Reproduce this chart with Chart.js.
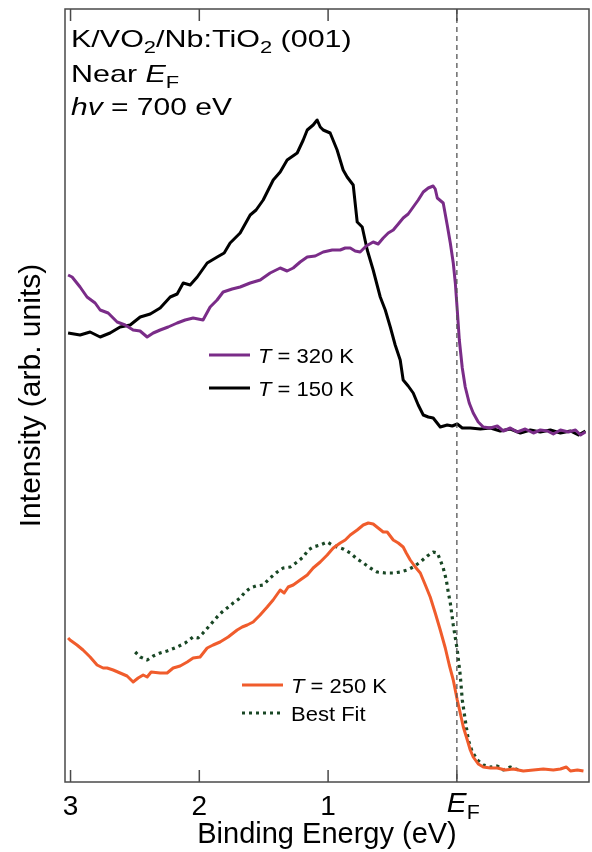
<!DOCTYPE html>
<html>
<head>
<meta charset="utf-8">
<script src="https://cdn.jsdelivr.net/npm/chart.js@4"></script>
<style>
  body { margin: 0; background: #fff; }
  #wrap { width: 592px; height: 852px; }
</style>
</head>
<body>
<div id="wrap"><canvas id="xps"></canvas></div>
<script>
// binding energy (eV) / intensity (arb. units)
const e150 = [3.019,2.926,2.848,2.770,2.693,2.615,2.537,2.459,2.381,2.304,2.226,2.172,2.125,2.071,2.016,1.939,1.861,1.807,1.761,1.683,1.605,1.559,1.504,1.426,1.372,1.318,1.240,1.193,1.162,1.116,1.085,1.061,1.038,0.984,0.930,0.883,0.852,0.805,0.774,0.735,0.696,0.650,0.595,0.556,0.517,0.479,0.440,0.417,0.378,0.339,0.300,0.261,0.222,0.184,0.129,0.075,0.036,-0.003,-0.042,-0.104,-0.182,-0.260,-0.337,-0.415,-0.493,-0.571,-0.648,-0.726,-0.804,-0.882,-0.944,-0.998];
const i150 = [44.9,44.7,45.0,44.5,44.9,45.5,45.7,46.5,46.8,47.4,48.5,48.8,49.9,49.7,50.5,51.9,52.5,52.9,53.9,54.9,56.7,57.2,58.2,60.2,61.0,62.2,62.9,64.2,65.2,65.7,66.2,65.5,65.2,64.9,63.2,61.2,60.5,59.7,56.0,55.5,53.2,51.2,48.5,47.2,45.5,43.7,42.2,40.2,39.6,38.9,37.7,36.7,36.5,36.4,35.5,35.7,35.6,35.8,35.4,35.4,35.3,35.4,35.1,35.3,34.9,35.2,35.0,35.2,34.9,35.1,34.7,35.1];

const e320 = [3.019,2.988,2.926,2.872,2.809,2.770,2.708,2.638,2.576,2.514,2.460,2.405,2.358,2.304,2.242,2.172,2.110,2.048,1.971,1.916,1.862,1.815,1.745,1.683,1.605,1.527,1.450,1.372,1.318,1.271,1.217,1.162,1.100,1.038,0.968,0.906,0.867,0.828,0.790,0.751,0.704,0.650,0.611,0.572,0.533,0.494,0.455,0.417,0.378,0.339,0.300,0.261,0.222,0.184,0.168,0.152,0.106,0.075,0.051,0.028,0.012,-0.003,-0.019,-0.042,-0.065,-0.096,-0.127,-0.166,-0.205,-0.260,-0.314,-0.361,-0.415,-0.469,-0.531,-0.594,-0.648,-0.703,-0.749,-0.804,-0.866,-0.921,-0.960,-0.998];
const i320 = [50.7,50.5,49.5,48.5,47.9,47.2,46.9,46.0,45.7,45.2,45.1,44.5,44.9,45.2,45.5,45.9,46.2,46.4,46.2,47.5,48.2,49.0,49.3,49.5,49.9,50.2,50.9,51.4,51.1,51.4,52.0,52.5,52.6,53.0,53.2,53.2,53.4,53.4,53.1,53.0,53.6,54.0,53.8,54.4,54.9,55.2,55.8,56.4,56.8,57.5,58.2,59.0,59.4,59.6,59.3,58.4,57.9,55.7,53.9,51.9,49.9,47.2,44.2,41.4,39.5,37.9,36.9,36.0,35.5,35.4,35.6,35.1,35.4,35.0,35.3,34.9,35.2,35.1,34.8,35.2,35.0,35.2,34.7,35.0];

const e250 = [3.019,3.004,2.950,2.903,2.848,2.794,2.747,2.716,2.669,2.615,2.561,2.514,2.475,2.436,2.405,2.374,2.304,2.250,2.203,2.149,2.094,2.048,1.994,1.939,1.893,1.839,1.776,1.706,1.667,1.628,1.582,1.528,1.473,1.427,1.372,1.341,1.310,1.271,1.217,1.162,1.116,1.061,1.007,0.960,0.906,0.867,0.828,0.774,0.727,0.688,0.650,0.611,0.572,0.541,0.494,0.455,0.417,0.393,0.362,0.323,0.284,0.245,0.207,0.168,0.129,0.090,0.059,0.028,-0.003,-0.026,-0.050,-0.081,-0.104,-0.127,-0.166,-0.205,-0.260,-0.314,-0.376,-0.438,-0.516,-0.594,-0.671,-0.749,-0.804,-0.850,-0.882,-0.936,-0.983];
const i250 = [14.4,14.2,13.7,13.2,12.5,11.7,11.4,11.4,11.2,10.9,10.6,10.0,10.4,10.7,10.5,11.0,10.9,10.9,11.4,11.6,12.0,12.4,12.5,13.4,13.7,14.0,14.5,15.2,15.5,15.7,16.0,16.7,17.5,18.2,19.2,18.9,19.5,19.7,20.2,20.7,21.4,22.0,22.7,23.4,23.9,24.2,24.7,25.2,25.7,25.9,25.8,25.4,25.0,25.0,24.2,23.9,23.5,22.9,22.2,21.5,20.9,19.7,18.5,16.9,15.2,13.4,11.7,10.2,8.2,6.9,5.5,4.2,3.2,2.5,1.8,1.5,1.4,1.4,1.2,1.3,1.1,1.2,1.3,1.2,1.3,1.5,1.1,1.2,1.1];

const eFit = [2.498,2.459,2.405,2.358,2.304,2.250,2.172,2.110,2.048,2.009,1.971,1.916,1.862,1.823,1.784,1.737,1.683,1.644,1.605,1.559,1.504,1.450,1.395,1.349,1.294,1.240,1.193,1.154,1.116,1.061,1.007,0.968,0.930,0.883,0.828,0.774,0.727,0.673,0.619,0.556,0.494,0.440,0.386,0.339,0.284,0.230,0.184,0.152,0.129,0.106,0.082,0.067,0.051,0.028,-0.003,-0.026,-0.042,-0.065,-0.089,-0.120,-0.159,-0.205,-0.260,-0.314,-0.361,-0.415,-0.477];
const iFit = [13.0,12.5,12.2,12.6,12.9,13.1,13.5,13.9,14.5,14.4,14.9,15.7,16.5,17.0,17.4,17.9,18.4,19.0,19.4,19.6,19.7,20.4,21.0,21.4,21.5,22.0,22.5,23.2,23.5,23.7,24.0,23.7,23.5,23.3,22.9,22.3,21.9,21.4,21.0,20.9,20.9,21.0,21.2,21.5,22.0,22.6,23.0,22.9,22.2,21.4,20.2,19.0,17.9,15.7,13.2,10.7,8.2,6.2,4.2,3.0,2.2,1.7,1.5,1.6,1.2,1.5,1.2];

const xTicks = [3, 2, 1, 0];
const xTickLabels = ['3', '2', '1', ''];

const PURPLE = 'rgb(122,44,136)';
const ORANGE = 'rgb(240,92,44)';
const GREEN = 'rgb(24,70,36)';
const FRAME = '#4a4a4a';
const FONT = '"Liberation Sans", Arial, Helvetica, sans-serif';

function pts(xs, ys) {
    return xs.map((x, i) => ({ x: x, y: ys[i] }));
}

// draws a run of text pieces [text, style], style '' | 'i' | 'sub'; sx stretches horizontally
function runText(ctx, x, y, size, parts, sx) {
    sx = sx || 1;
    ctx.save();
    ctx.translate(x, y);
    ctx.scale(sx, 1);
    let cx = 0;
    parts.forEach(p => {
        const s = p[1] || '';
        const sub = s === 'sub';
        const fs = sub ? size * 0.72 : size;
        ctx.font = (s === 'i' ? 'italic ' : '') + fs + 'px ' + FONT;
        ctx.fillText(p[0], cx, sub ? size * 0.26 : 0);
        cx += ctx.measureText(p[0]).width;
    });
    ctx.restore();
}

const decor = {
    id: 'decor',
    afterDatasetsDraw(chart) {
        const ctx = chart.ctx;
        const a = chart.chartArea;
        const xs = chart.scales.x;
        ctx.save();

        // E_F marker
        const x0 = xs.getPixelForValue(0);
        ctx.strokeStyle = '#555';
        ctx.lineWidth = 1.3;
        ctx.setLineDash([5, 4]);
        ctx.beginPath();
        ctx.moveTo(x0, a.top);
        ctx.lineTo(x0, a.bottom);
        ctx.stroke();
        ctx.setLineDash([]);

        // frame and inward ticks
        ctx.strokeStyle = FRAME;
        ctx.lineWidth = 1.5;
        ctx.strokeRect(a.left, a.top, a.right - a.left, a.bottom - a.top);
        xTicks.forEach(t => {
            const px = xs.getPixelForValue(t);
            ctx.beginPath();
            ctx.moveTo(px, a.bottom);
            ctx.lineTo(px, a.bottom - 12);
            ctx.moveTo(px, a.top);
            ctx.lineTo(px, a.top + 12);
            ctx.stroke();
        });

        ctx.fillStyle = '#000';
        ctx.textBaseline = 'alphabetic';
        ctx.textAlign = 'left';

        // E_F tick label
        runText(ctx, x0 - 10, 812, 27, [['E', 'i'], ['F', 'sub']], 1.1);

        // header
        runText(ctx, a.left + 6, 47, 24, [['K/VO'], ['2', 'sub'], ['/Nb:TiO'], ['2', 'sub'], [' (001)']], 1.27);
        runText(ctx, a.left + 6, 82, 24, [['Near '], ['E', 'i'], ['F', 'sub']], 1.27);
        runText(ctx, a.left + 6, 115, 24, [['hv', 'i'], [' = 700 eV']], 1.25);

        // legends
        const ds = chart.data.datasets;
        const legendRows = [
            [ds[0], 355, 'T', ' = 320 K'],
            [ds[1], 388, 'T', ' = 150 K'],
            [ds[2], 685, 'T', ' = 250 K'],
            [ds[3], 713, '', 'Best Fit']
        ];
        legendRows.forEach((r, k) => {
            const lx = k < 2 ? 209 : 242;
            ctx.strokeStyle = r[0].borderColor;
            ctx.lineWidth = 3;
            ctx.setLineDash(r[0].borderDash || []);
            ctx.beginPath();
            ctx.moveTo(lx, r[1]);
            ctx.lineTo(lx + 41, r[1]);
            ctx.stroke();
            ctx.setLineDash([]);
            const parts = r[2] ? [[r[2], 'i'], [r[3]]] : [[r[3]]];
            runText(ctx, lx + 49, r[1] + 8, 20, parts, 1.1);
        });

        ctx.restore();
    }
};

new Chart(document.getElementById('xps'), {
    type: 'line',
    data: {
        datasets: [
            { label: 'T = 320 K', data: pts(e320, i320), borderColor: PURPLE, borderWidth: 3 },
            { label: 'T = 150 K', data: pts(e150, i150), borderColor: '#000', borderWidth: 3 },
            { label: 'T = 250 K', data: pts(e250, i250), borderColor: ORANGE, borderWidth: 3 },
            { label: 'Best Fit', data: pts(eFit, iFit), borderColor: GREEN, borderWidth: 3.2, borderDash: [3, 4] }
        ]
    },
    options: {
        responsive: true,
        maintainAspectRatio: false,
        animation: false,
        elements: { point: { radius: 0 }, line: { tension: 0, borderJoinStyle: 'round' } },
        layout: { padding: { top: 9, right: 3, left: 0, bottom: 0 } },
        plugins: { legend: { display: false }, tooltip: { enabled: false } },
        scales: {
            x: {
                type: 'linear',
                reverse: true,
                min: -1.026,
                max: 3.043,
                afterBuildTicks: s => { s.ticks = xTicks.map(v => ({ value: v })); },
                afterFit: s => { s.height = 70; },
                grid: { display: false, drawTicks: false },
                border: { display: false },
                ticks: {
                    color: '#000',
                    padding: 8,
                    font: { family: FONT, size: 28 },
                    callback: v => xTickLabels[xTicks.indexOf(v)]
                },
                title: {
                    display: true,
                    text: 'Binding Energy (eV)',
                    color: '#000',
                    padding: { top: 0, bottom: 0 },
                    font: { family: FONT, size: 29 }
                }
            },
            y: {
                min: 0,
                max: 77.3,
                afterFit: s => { s.width = 65; },
                grid: { display: false, drawTicks: false },
                border: { display: false },
                ticks: { display: false },
                title: {
                    display: true,
                    text: 'Intensity (arb. units)',
                    color: '#000',
                    padding: { top: 14, bottom: 0 },
                    font: { family: FONT, size: 30 }
                }
            }
        }
    },
    plugins: [decor]
});
</script>
</body>
</html>
